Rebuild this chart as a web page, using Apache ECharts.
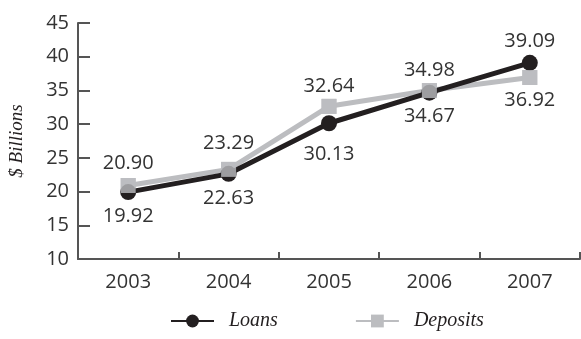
<!DOCTYPE html>
<html>
<head>
<meta charset="utf-8">
<script src="https://cdn.jsdelivr.net/npm/echarts@6/dist/echarts.min.js"></script>
<style>
html,body{margin:0;padding:0;background:#fff;}
#chart{width:581px;height:339px;}
</style>
</head>
<body>
<div id="chart"></div>
<script>
// Year categories and balances in $ billions
const years = ['2003', '2004', '2005', '2006', '2007'];
const loans = [19.92, 22.63, 30.13, 34.67, 39.09];
const deposits = [20.90, 23.29, 32.64, 34.98, 36.92];
const yTicks = { min: 10, max: 45, step: 5 };

// Label placement per point: loans sit below except the last, deposits the opposite
const loanLabelPos = ['bottom', 'bottom', 'bottom', 'bottom', 'top'];
const loanLabelGap = [6, 6, 13, 6, 4];
const depositLabelPos = ['top', 'top', 'top', 'top', 'bottom'];
const depositLabelGap = [5, 9, 3, 3, 5];

const labelFont = { fontFamily: 'Open Sans', fontSize: 20, color: '#333' };
const LOAN_COLOR = '#231f20';
const DEP_COLOR = '#bcbdc0';

const chart = echarts.init(document.getElementById('chart'));

function pointData(values, positions, gaps) {
  return values.map((v, i) => ({
    value: v,
    label: { position: positions[i], distance: gaps[i] }
  }));
}

chart.setOption({
  animation: false,
  grid: { left: 78, right: 1, top: 23, bottom: 80, outerBoundsMode: 'none', containLabel: false },
  legend: {
    bottom: 3,
    left: 165,
    itemWidth: 43,
    itemHeight: 16,
    itemGap: 77,
    textStyle: { fontFamily: 'Liberation Serif', fontStyle: 'italic', fontSize: 20, color: '#231f20', padding: [0, 0, 0, 10] },
    data: ['Loans', 'Deposits']
  },
  xAxis: {
    type: 'category',
    data: years,
    boundaryGap: true,
    axisLine: { lineStyle: { color: '#555', width: 2 } },
    axisTick: { show: true, inside: true, length: 7, lineStyle: { color: '#555', width: 2 } },
    axisLabel: { ...labelFont, margin: 13 }
  },
  yAxis: {
    type: 'value',
    min: yTicks.min,
    max: yTicks.max,
    interval: yTicks.step,
    name: '$ Billions',
    nameLocation: 'middle',
    nameGap: 52,
    nameRotate: 90,
    nameTextStyle: { fontFamily: 'Liberation Serif', fontStyle: 'italic', fontSize: 19, color: '#231f20' },
    splitLine: { show: false },
    axisLine: { show: true, lineStyle: { color: '#555', width: 2 } },
    axisTick: { show: true, inside: true, length: 12, lineStyle: { color: '#555', width: 2 } },
    axisLabel: { ...labelFont, margin: 9 }
  },
  series: [
    {
      name: 'Deposits',
      type: 'line',
      data: pointData(deposits, depositLabelPos, depositLabelGap),
      symbol: 'rect',
      symbolSize: 15,
      itemStyle: { color: DEP_COLOR },
      lineStyle: { color: DEP_COLOR, width: 5 },
      label: { show: true, ...labelFont, formatter: p => p.value.toFixed(2) },
      z: 2
    },
    {
      name: 'Loans',
      type: 'line',
      data: pointData(loans, loanLabelPos, loanLabelGap),
      symbol: 'circle',
      symbolSize: 16,
      itemStyle: { color: LOAN_COLOR },
      lineStyle: { color: LOAN_COLOR, width: 5 },
      label: { show: true, ...labelFont, formatter: p => p.value.toFixed(2) },
      z: 3
    },
    {
      // deposit squares repeated above the loans line so they sit on top
      name: 'DepositMarkers',
      type: 'scatter',
      data: deposits,
      symbol: 'rect',
      symbolSize: 15,
      itemStyle: { color: DEP_COLOR },
      silent: true,
      z: 4
    }
  ]
});
</script>
</body>
</html>
